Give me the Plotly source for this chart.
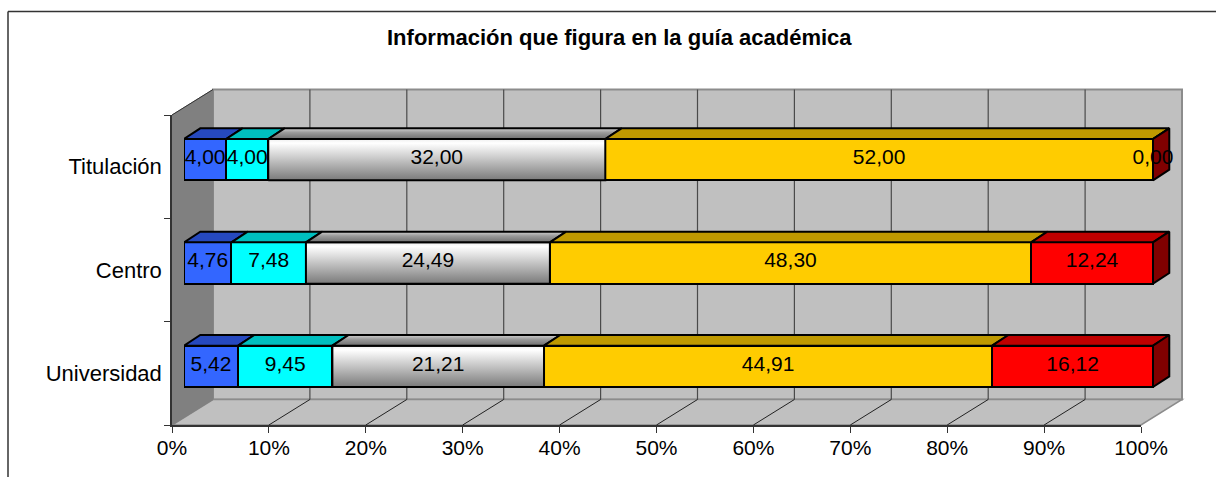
import plotly.graph_objects as go

categories = ["Universidad", "Centro", "Titulación"]
s1 = [5.42, 4.76, 4.00]
s2 = [9.45, 7.48, 4.00]
s3 = [21.21, 24.49, 32.00]
s4 = [44.91, 48.30, 52.00]
s5 = [16.12, 12.24, 0.00]
series = [s1, s2, s3, s4, s5]
x_ticks = list(range(0, 101, 10))
x_tick_labels = [f"{v}%" for v in x_ticks]
title = "Información que figura en la guía académica"

front_colors = ["#3366FF", "#00FFFF", "#BFBFBF", "#FFCC00", "#FF0000"]
top_colors = ["#2649BF", "#00BFBF", None, "#BF9900", "#BF0000"]
side_color = "#800000"

W, H = 1216, 477
FONT = "Liberation Sans"
FS = 21
LW = 2
DX_PCT = 1.68   # bar depth, in percent units
DY_CAT = 0.103  # bar depth, in category units
BAR_H = 0.40

def px(v): return v / W
def py(v): return 1 - v / H

fig = go.Figure()

# dummy trace carries the category axis
fig.add_trace(go.Scatter(x=[0, 0, 0], y=categories, mode="markers", marker=dict(opacity=0, size=1),
                         hoverinfo="skip", showlegend=False, xaxis="x", yaxis="y"))

totals = [sum(s[i] for s in series) for i in range(3)]
cum = [[0.0] * 3 for _ in range(6)]
for k, s in enumerate(series):
    for i in range(3):
        cum[k + 1][i] = cum[k][i] + s[i] / totals[i] * 100

# front faces
for k, s in enumerate(series):
    fig.add_trace(go.Bar(y=[0, 1, 2], x=s, orientation="h", xaxis="x2", yaxis="y2",
                         marker=dict(color=front_colors[k], line=dict(color="black", width=LW)),
                         width=BAR_H, cliponaxis=False, showlegend=False, name=f"Serie {k+1}"))

def poly(xs, ys, fill=None, grad=None, width=LW):
    kw = dict(fillcolor=fill) if fill else dict(fillgradient=grad)
    fig.add_trace(go.Scatter(x=xs, y=ys, mode="lines", fill="toself", xaxis="x2", yaxis="y2",
                             line=dict(color="black", width=width), cliponaxis=False,
                             hoverinfo="skip", showlegend=False, **kw))

front_grad = dict(type="vertical", colorscale=[[0, "#7A7A7A"], [0.5, "#C4C4C4"], [0.9, "#FFFFFF"], [1, "#EEEEEE"]])
top_grad = dict(type="vertical", colorscale=[[0, "#6E6E6E"], [0.6, "#9A9A9A"], [1, "#D0D0D0"]])

for i in range(3):
    y0, y1 = i - BAR_H / 2, i + BAR_H / 2
    for k in range(5):
        a, b = cum[k][i], cum[k + 1][i]
        if k == 2:
            poly([a, b, b, a, a], [y0, y0, y1, y1, y0], grad=front_grad)
        xs = [a, b, b + DX_PCT, a + DX_PCT, a]
        ys = [y1, y1, y1 + DY_CAT, y1 + DY_CAT, y1]
        if top_colors[k]:
            poly(xs, ys, fill=top_colors[k])
        else:
            poly(xs, ys, grad=top_grad)
    e = cum[5][i]
    poly([e, e + DX_PCT, e + DX_PCT, e, e], [y0, y0 + DY_CAT, y1 + DY_CAT, y1, y0], fill=side_color)

# value labels
for k, s in enumerate(series):
    fig.add_trace(go.Scatter(
        x=[(cum[k][i] + cum[k + 1][i]) / 2 for i in range(3)],
        y=[i + 0.008 for i in range(3)],
        text=[f"{v:.2f}".replace(".", ",") for v in s],
        mode="text", textposition="middle center", cliponaxis=False,
        textfont=dict(family=FONT, size=FS, color="black"),
        xaxis="x2", yaxis="y2", hoverinfo="skip", showlegend=False))

# walls, floor, gridlines (chart furniture, in page pixels)
X0, X1, YT, YB = 172, 1141, 115, 425
DX, DY = 41, 25.5
def path(pts): return "M" + " L".join(f"{px(a):.5f},{py(b):.5f}" for a, b in pts) + " Z"
shapes = []
def add_poly(pts, fill, lc, lw=1):
    shapes.append(dict(type="path", xref="paper", yref="paper", layer="below", path=path(pts),
                       fillcolor=fill, line=dict(color=lc, width=lw)))
def add_line(a, b, c, d, col, lw=1):
    shapes.append(dict(type="line", xref="paper", yref="paper", layer="below",
                       x0=px(a), y0=py(b), x1=px(c), y1=py(d), line=dict(color=col, width=lw)))

add_poly([(X0 + DX, YT - DY), (X1 + DX, YT - DY), (X1 + DX, YB - DY), (X0 + DX, YB - DY)], "#C0C0C0", "#8C8C8C", 2)
add_poly([(X0, YB), (X1, YB), (X1 + DX, YB - DY), (X0 + DX, YB - DY)], "#C0C0C0", "#8C8C8C", 1.5)
add_poly([(X0, YT), (X0 + DX, YT - DY), (X0 + DX, YB - DY), (X0, YB)], "#808080", "#808080", 1)
add_line(X0, YT, X0 + DX, YT - DY, "#333333", 1)
for j in range(1, 10):
    xf = X0 + (X1 - X0) * j / 10
    add_line(xf + DX, YT - DY, xf + DX, YB - DY, "#4A4A4A", 1.2)
    add_line(xf, YB, xf + DX, YB - DY, "#222222", 1)
# outer chart border
add_line(8, 11.5, 1216, 11.5, "#333333", 1.5)
add_line(8, 11.5, 8, 477, "#333333", 1.5)
fig.update_layout(shapes=shapes)

fig.add_annotation(text=f"<b>{title}</b>", xref="paper", yref="paper", x=px(620), y=py(37),
                   showarrow=False, xanchor="center", yanchor="middle",
                   font=dict(family=FONT, size=22, color="black"))

BAR_X0 = 184
BAR_SPAN = 969
BAR_DOMAIN_W = 1010

fig.update_layout(
    width=W, height=H, autosize=False, margin=dict(l=0, r=0, t=0, b=0),
    paper_bgcolor="white", plot_bgcolor="rgba(0,0,0,0)",
    barmode="stack", barnorm="percent", showlegend=False,
    xaxis=dict(domain=[px(X0), px(X1)], range=[0, 100], anchor="y", tickmode="array", automargin=False,
               tickvals=x_ticks, ticktext=x_tick_labels, ticklabelstandoff=-3,
               showgrid=False, zeroline=False, showline=True, linecolor="#333333", linewidth=1.5,
               ticks="outside", ticklen=6, tickcolor="#333333", tickwidth=1,
               tickfont=dict(family=FONT, size=FS, color="black")),
    yaxis=dict(domain=[py(YB), py(YT)], type="category", categoryorder="array", categoryarray=categories,
               range=[-0.5, 2.5], anchor="x", tickson="boundaries", showgrid=False, zeroline=False,
               showline=True, linecolor="#333333", linewidth=1.5, automargin=False, ticklabelstandoff=4,
               ticks="outside", ticklen=6, tickcolor="#333333", tickwidth=1,
               tickfont=dict(family=FONT, size=22, color="black")),
    xaxis2=dict(domain=[px(BAR_X0), px(BAR_X0 + BAR_DOMAIN_W)], range=[0, 100 * BAR_DOMAIN_W / BAR_SPAN],
                anchor="y2", visible=False, automargin=False),
    yaxis2=dict(domain=[py(418), py(108)], range=[-0.5, 2.5], anchor="x2", visible=False, automargin=False),
)

fig.write_html("out.html", config=dict(displayModeBar=False),
               post_script="document.body.style.margin='0';document.documentElement.style.overflow='hidden';")
